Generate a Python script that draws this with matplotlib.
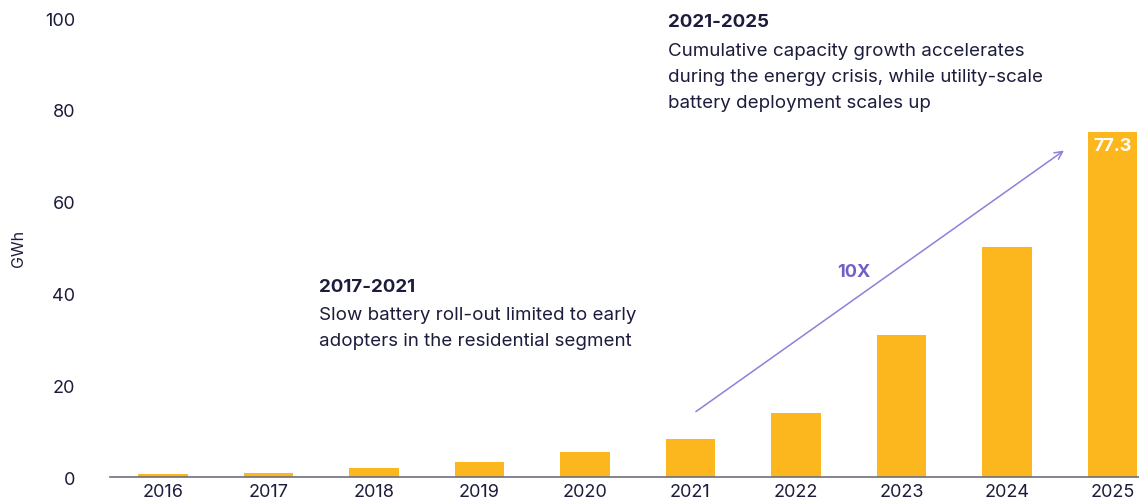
import matplotlib.pyplot as plt

# values
years = ['2016', '2017', '2018', '2019', '2020', '2021', '2022', '2023', '2024', '2025']
capacity = [0.6, 0.8, 2.0, 3.3, 5.4, 8.3, 13.9, 30.9, 50.2, 75.2]
yticks = [0, 20, 40, 60, 80, 100]
last_label = '77.3'

note_early_title = '2017-2021'
note_early = ['Slow battery roll-out limited to early',
              'adopters in the residential segment']
note_late_title = '2021-2025'
note_late = ['Cumulative capacity growth accelerates',
             'during the energy crisis, while utility-scale',
             'battery deployment scales up']

bar_color = '#FDB71E'
navy = '#1c1c3c'
purple = '#8e80d8'

plt.rcParams['font.family'] = ['Inter', 'DejaVu Sans']

fig = plt.figure(figsize=(11.39, 5.02), dpi=100)
ax = fig.add_axes([0.0966, 0.0478, 0.9034, 0.914])

x = list(range(len(years)))
ax.bar(x, capacity, width=0.47, color=bar_color)

ax.set_xlim(-0.5, 9.25)
ax.set_ylim(0, 100)
ax.set_xticks(x)
ax.set_xticklabels(years)
ax.set_yticks(yticks)
ax.tick_params(axis='both', length=0, labelsize=13, colors=navy)
ax.tick_params(axis='y', pad=25)
ax.tick_params(axis='x', pad=4)
ax.set_ylabel('GWh', fontsize=11.5, color=navy, labelpad=14)

for s in ['top', 'right', 'left']:
    ax.spines[s].set_visible(False)
ax.spines['bottom'].set_color('#6e6e80')
ax.spines['bottom'].set_linewidth(1.2)

# value on the last bar
ax.text(x[-1], capacity[-1] - 1.0, last_label, ha='center', va='top',
        color='white', fontsize=13, fontweight='bold')

# growth arrow
ax.annotate('', xy=(8.56, 71.5), xytext=(5.03, 13.9),
            arrowprops=dict(arrowstyle='->', color=purple, lw=1.1,
                            mutation_scale=14))
ax.text(6.55, 44.7, '10X', color='#6f60c8', fontsize=13, fontweight='bold',
        ha='center', va='center')

# notes
ax.text(1.48, 41.6, note_early_title, color=navy, fontsize=13.5,
        fontweight='bold', ha='left', va='center')
for i, line in enumerate(note_early):
    ax.text(1.48, 35.5 - 5.7 * i, line, color=navy, fontsize=13.5,
            ha='left', va='center')

ax.text(4.79, 99.3, note_late_title, color=navy, fontsize=13.5,
        fontweight='bold', ha='left', va='center', clip_on=False)
for i, line in enumerate(note_late):
    ax.text(4.79, 93.0 - 5.65 * i, line, color=navy, fontsize=13.5,
            ha='left', va='center')

fig.savefig('out.png', dpi=100)
